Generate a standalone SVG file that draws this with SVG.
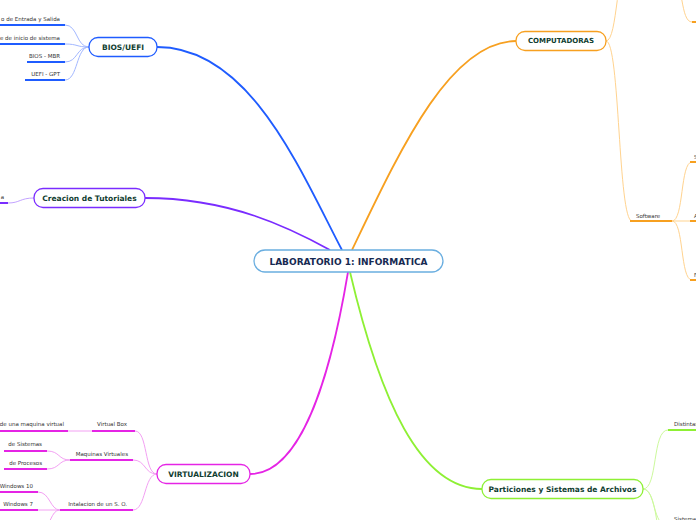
<svg xmlns="http://www.w3.org/2000/svg" width="696" height="520" viewBox="0 0 696 520">
<style>
.node rect{fill:#fff;stroke-width:1.3}
.title{font-family:"DejaVu Sans",Verdana,sans-serif;font-weight:bold;fill:#0f3d30;text-anchor:middle;dominant-baseline:central}
.lbl{font-family:"DejaVu Sans",Verdana,sans-serif;font-size:5.5px;fill:#333}
.r{text-anchor:end}
.c path{fill:none}
.ul{stroke-width:2}
</style>
<rect width="696" height="520" fill="#fff"/>
<g id="connectors" class="c">
  <!-- main -->
  <path d="M157,47 C250,47 300,170 342,250" stroke="#1f5cff" stroke-width="1.8"/>
  <path d="M145,198 C230,198 290,228 330,250" stroke="#7a2cff" stroke-width="1.8"/>
  <path d="M516,41 C450,41 400,150 352,250" stroke="#f7a020" stroke-width="1.8"/>
  <path d="M250,474 C300,474 330,380 348,272" stroke="#e524e5" stroke-width="1.8"/>
  <path d="M482,489 C420,489 380,400 350,272" stroke="#8ef034" stroke-width="1.8"/>
  <!-- BIOS children -->
  <g stroke="#a3b8ff" stroke-width="1">
    <path d="M89,47 C76,47 78,25 65,25"/>
    <path d="M89,47 C76,47 78,44 65,44"/>
    <path d="M89,47 C76,47 78,62 65,62"/>
    <path d="M89,47 C76,47 78,80 65,80"/>
  </g>
  <path d="M34,198 C20,198 20,203 8,203" stroke="#c3a3ff" stroke-width="1"/>
  <!-- VIRTUALIZACION children -->
  <g stroke="#f3a0f3" stroke-width="1">
    <path d="M157,474 C144,474 148,431 135,431"/>
    <path d="M157,474 C144,474 146,460 133,460"/>
    <path d="M157,474 C144,474 146,510 133,510"/>
    <path d="M92,431 L68,431"/>
    <path d="M70,460 C58,460 60,451 47,451"/>
    <path d="M70,460 C58,460 60,469 47,469"/>
    <path d="M60,510 C50,510 50,492 38,492"/>
    <path d="M60,510 L38,510"/>
    <path d="M60,510 C50,510 52,528 40,528"/>
  </g>
  <!-- COMPUTADORAS children -->
  <g stroke="#ffd38f" stroke-width="1">
    <path d="M606,41 C620,41 618,221 632,221"/>
    <path d="M606,41 C618,41 616,-40 630,-40"/>
    <path d="M672,-20 C684,-20 680,22 692,22"/>
    <path d="M672,221 C684,221 680,162 692,162"/>
    <path d="M672,221 L692,221"/>
    <path d="M672,221 C684,221 680,280 692,280"/>
  </g>
  <!-- Particiones children -->
  <g stroke="#ccf99c" stroke-width="1">
    <path d="M643,489 C658,489 652,430 668,430"/>
    <path d="M643,489 C656,489 652,526 668,526"/>
    <path d="M643,489 C660,489 656,560 668,560"/>
  </g>
  <!-- underlines -->
  <g class="ul">
    <path d="M0,25 H65 M0,44 H65 M27,62 H65 M25,80 H65" stroke="#1f5cff"/>
    <path d="M0,203 H8" stroke="#7a2cff"/>
    <path d="M92,431 H135 M0,431 H68 M70,460 H133 M4,451 H47 M4,469 H47 M60,510 H133 M0,492 H38 M0,510 H38" stroke="#e524e5"/>
    <path d="M630,221 H672 M692,22 H696 M690,162 H696 M690,221 H696 M690,280 H696" stroke="#f7a020"/>
    <path d="M668,430 H696" stroke="#8ef034"/>
  </g>
</g>
<g id="center" class="node">
  <rect x="254" y="250" width="189" height="22" rx="11" stroke="#6aaee0"/>
  <text x="348.5" y="261.5" class="title" style="font-size:9px;fill:#172a52">LABORATORIO 1: INFORMATICA</text>
</g>
<g id="bios" class="node">
  <rect x="89" y="37.5" width="68" height="19" rx="9" stroke="#1f5cff"/>
  <text x="123" y="47" class="title" style="font-size:7.5px">BIOS/UEFI</text>
  <text x="60" y="21" class="lbl r">o de Entrada y Salida</text>
  <text x="60" y="40" class="lbl r">e de inicio de sistema</text>
  <text x="60" y="58" class="lbl r">BIOS - MBR</text>
  <text x="60" y="76" class="lbl r">UEFI - GPT</text>
</g>
<g id="tutoriales" class="node">
  <rect x="34" y="188.5" width="111" height="19" rx="9" stroke="#7a2cff"/>
  <text x="89.5" y="198" class="title" style="font-size:7.5px">Creacion de Tutoriales</text>
  <text x="4" y="199" class="lbl r">a</text>
</g>
<g id="virtualizacion" class="node">
  <rect x="157" y="464.5" width="93" height="19" rx="9" stroke="#e524e5"/>
  <text x="203.5" y="474" class="title" style="font-size:7.5px">VIRTUALIZACION</text>
  <text x="127" y="426" class="lbl r">Virtual Box</text>
  <text x="64" y="426" class="lbl r">de una maquina virtual</text>
  <text x="128" y="456" class="lbl r">Maquinas Virtuales</text>
  <text x="42" y="446" class="lbl r">de Sistemas</text>
  <text x="42" y="465" class="lbl r">de Procesos</text>
  <text x="127" y="506" class="lbl r">Intalacion de un S. O.</text>
  <text x="33" y="488" class="lbl r">Windows 10</text>
  <text x="33" y="506" class="lbl r">Windows 7</text>
  <text x="0" y="521" class="lbl">...</text>
</g>
<g id="computadoras" class="node">
  <rect x="516" y="31.5" width="90" height="19" rx="9" stroke="#f7a020"/>
  <text x="561" y="41" class="title" style="font-size:7px">COMPUTADORAS</text>
  <text x="636" y="218" class="lbl">Software</text>
  <text x="694" y="159" class="lbl">S</text>
  <text x="694" y="218" class="lbl">A</text>
  <text x="694" y="277" class="lbl">F</text>
</g>
<g id="particiones" class="node">
  <rect x="482" y="479.5" width="161" height="19" rx="9" stroke="#8ef034"/>
  <text x="562.5" y="489" class="title" style="font-size:7.5px">Particiones y Sistemas de Archivos</text>
  <text x="674" y="426" class="lbl">Distintas</text>
  <text x="674" y="521" class="lbl">Sistema</text>
</g>
</svg>
